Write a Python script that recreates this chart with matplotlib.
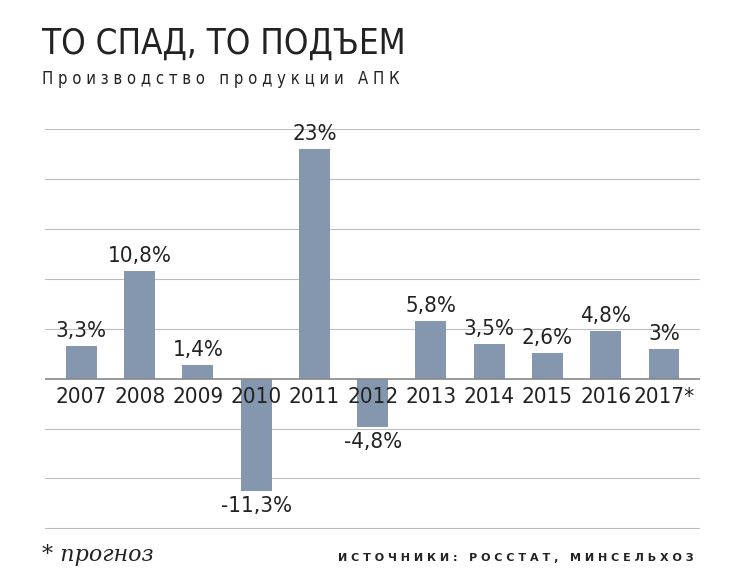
import matplotlib
matplotlib.use("Agg")
import matplotlib.pyplot as plt

cond = "DejaVu Sans"
st = "condensed"

years = ["2007", "2008", "2009", "2010", "2011", "2012", "2013", "2014", "2015", "2016", "2017*"]
values = [3.3, 10.8, 1.4, -11.3, 23, -4.8, 5.8, 3.5, 2.6, 4.8, 3]
labels = ["3,3%", "10,8%", "1,4%", "-11,3%", "23%", "-4,8%", "5,8%", "3,5%", "2,6%", "4,8%", "3%"]

fig = plt.figure(figsize=(7.3, 5.87), dpi=100)
ax = fig.add_axes([0.062, 0.095, 0.897, 0.6845])
x = list(range(len(years)))
ax.bar(x, values, width=0.53, color="#8497ae", zorder=2)
ax.set_ylim(-15.3, 25)
ax.set_xlim(-0.62, 10.62)
for g in [-15, -10, -5, 5, 10, 15, 20, 25]:
    ax.axhline(g, color="#bdbdbd", lw=0.8, zorder=1)
ax.axhline(0, color="#888888", lw=1.2, zorder=3)
for xi, v, l, y in zip(x, values, labels, years):
    if v >= 0:
        ax.text(xi, v + 0.5, l, ha="center", va="bottom", fontsize=16, family=cond, fontstretch=st, color="#222222")
    else:
        ax.text(xi, v - 0.5, l, ha="center", va="top", fontsize=16, family=cond, fontstretch=st, color="#222222")
    ax.text(xi, -0.8, y, ha="center", va="top", fontsize=16, family=cond, fontstretch=st, color="#222222", zorder=4)
ax.axis("off")

fig.text(0.058, 0.955, "ТО СПАД, ТО ПОДЪЕМ", fontsize=25, family=cond, fontstretch=st, color="#222222", va="top")
fig.text(0.058, 0.88, "П р о и з в о д с т в о   п р о д у к ц и и   А П К", fontsize=12,
         family=cond, fontstretch=st, color="#222222", va="top")
fig.text(0.058, 0.055, "* прогноз", fontsize=16, family="DejaVu Serif", style="italic", color="#222222", va="center")
fig.text(0.95, 0.05, "И С Т О Ч Н И К И :   Р О С С Т А Т ,   М И Н С Е Л Ь Х О З", fontsize=8,
         weight="bold", family="DejaVu Sans", color="#222222", ha="right", va="center")
fig.savefig("out.png", dpi=100, facecolor="white")
